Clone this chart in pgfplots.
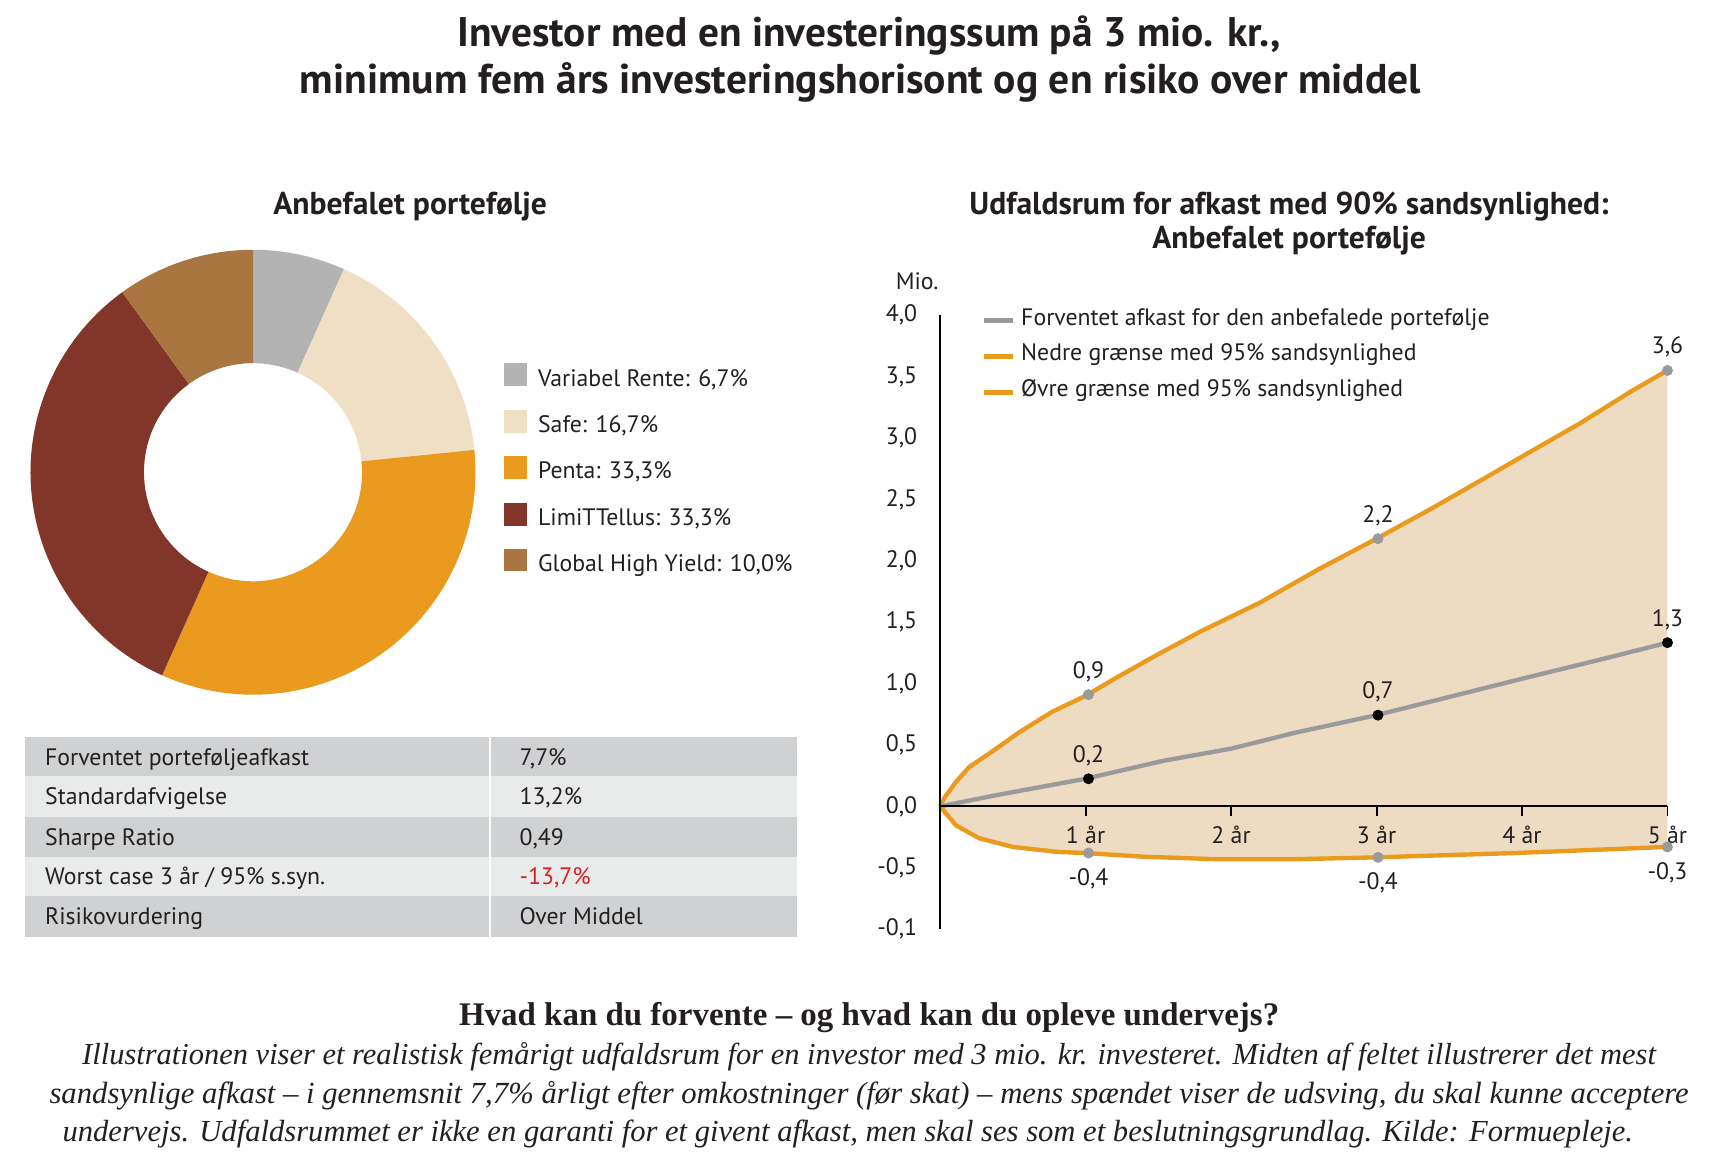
\documentclass[border=0pt]{standalone}
\usepackage{fontspec}
\usepackage{pgfplots}
\pgfplotsset{compat=1.18}
\newfontfamily\ptsans{PT Sans}
\newfontfamily\serifb{Liberation Serif}
\definecolor{cVar}{HTML}{B3B3B3}
\definecolor{cSafe}{HTML}{EEDFC5}
\definecolor{cPenta}{HTML}{E99A1F}
\definecolor{cLimit}{HTML}{823529}
\definecolor{cGHY}{HTML}{A97540}
\definecolor{cOrange}{HTML}{EA9B1E}
\definecolor{cGrayLine}{HTML}{9A9A9C}
\definecolor{cFill}{HTML}{EDDCC2}
\definecolor{cRowDark}{HTML}{CFD1D2}
\definecolor{cRowLight}{HTML}{E9EAEA}
\definecolor{cRed}{HTML}{D2232A}
\definecolor{cText}{HTML}{231F20}
\newcommand\smallfont{\ptsans\fontsize{10.9}{13}\selectfont}
\tikzset{lab/.style={anchor=base, inner sep=0pt, yshift=7.6pt},
         labd/.style={anchor=north, inner sep=0pt, yshift=-6.9pt}}
\begin{document}
\begin{tikzpicture}[x=0.5pt, y=-0.5pt, font=\smallfont, text=cText]
\useasboundingbox (0,0) rectangle (1568,1062);

% ---------- main title
\node[anchor=base, font=\ptsans\bfseries] at (797,43) {\resizebox{377.5pt}{!}{Investor med en investeringssum på 3 mio. kr.,}};
\node[anchor=base, font=\ptsans\bfseries] at (789,86) {\resizebox{514pt}{!}{minimum fem års investeringshorisont og en risiko over middel}};

% ---------- section titles
\node[anchor=base, font=\ptsans\bfseries\fontsize{14.5}{17}\selectfont] at (376,197) {Anbefalet portefølje};
\node[anchor=base, font=\ptsans\bfseries\fontsize{14.5}{17}\selectfont] at (1182,197) {Udfaldsrum for afkast med 90\% sandsynlighed:};
\node[anchor=base, font=\ptsans\bfseries\fontsize{14.5}{17}\selectfont] at (1182,228) {Anbefalet portefølje};

% ---------- donut (shares in %)
\begin{scope}[shift={(232,433)}, x=1pt, y=1pt]
\gdef\ang{90}
\foreach \v/\c in {6.7/cVar,16.7/cSafe,33.3/cPenta,33.3/cLimit,10.0/cGHY}{
  \pgfmathsetmacro\e{\ang-\v*3.6}
  \fill[\c] (\ang:102pt) arc[start angle=\ang, end angle=\e, radius=102pt]
     -- (\e:50pt) arc[start angle=\e, end angle=\ang, radius=50pt] -- cycle;
  \xdef\ang{\e}
}
\end{scope}

% ---------- donut legend
\foreach \c/\t/\y in {cVar/{Variabel Rente: 6,7\%}/333, cSafe/{Safe: 16,7\%}/376, cPenta/{Penta: 33,3\%}/418, cLimit/{LimiTTellus: 33,3\%}/461, cGHY/{Global High Yield: 10,0\%}/503}{
  \fill[\c] (462,\y) rectangle (483,\y+21);
  \node[anchor=base west, inner sep=0pt] at (493,\y+21) {\t};
}

% ---------- table
\foreach \ya/\yb/\c in {676/712/cRowDark, 712/749/cRowLight, 749/786/cRowDark, 786/822/cRowLight, 822/859/cRowDark}{
  \fill[\c] (23,\ya) rectangle (731,\yb);
}
\draw[white, line width=1pt] (449,676) -- (449,859);
\foreach \y/\a/\b in {702/{Forventet porteføljeafkast}/{7,7\%}, 738/{Standardafvigelse}/{13,2\%}, 775/{Sharpe Ratio}/{0,49}, 811/{Worst case 3 år / 95\% s.syn.}/{\textcolor{cRed}{-13,7\%}}, 848/{Risikovurdering}/{Over Middel}}{
  \node[anchor=base west, inner sep=0pt] at (41,\y) {\a};
  \node[anchor=base west, inner sep=0pt] at (476,\y) {\b};
}

% ---------- line chart
\node[anchor=base west, inner sep=0pt] at (821,265) {Mio.};
\begin{scope}[x=1pt, y=1pt]
\begin{axis}[at={(431pt,-426pt)}, anchor=south west, scale only axis,
  width=333.5pt, height=281.5pt, xmin=0, xmax=5, ymin=-1, ymax=4, clip=false,
  axis on top,
  axis x line=middle, axis y line=left, axis line style={-, black, line width=0.9pt},
  xtick={1,2,3,4,5}, xticklabels={1 år,2 år,3 år,4 år,5 år},
  ytick={-1,-0.5,0,0.5,1,1.5,2,2.5,3,3.5,4},
  yticklabels={{-0,1},{-0,5},{0,0},{0,5},{1,0},{1,5},{2,0},{2,5},{3,0},{3,5},{4,0}},
  ytick style={draw=none}, xtick style={black, line width=0.9pt},
  tick align=outside, major tick length=4.5pt,
  tick label style={font=\smallfont, text=cText},
  y tick label style={xshift=-2.5pt},
  x tick label style={yshift=-1pt},
]
% band between lower and upper limit
\addplot[fill=cFill, draw=none] coordinates {
 (0,0) (0.03,0.07) (0.11,0.20) (0.2,0.32) (0.35,0.44) (0.54,0.60) (0.77,0.77) (1.0,0.90) (1.2,1.04) (1.5,1.24) (1.8,1.43) (2.2,1.66) (2.6,1.93) (3.0,2.18) (3.37,2.42) (3.71,2.65) (4.06,2.89) (4.4,3.12) (4.75,3.38) (5.0,3.55)
 (5.0,-0.33) (3.95,-0.38) (3.0,-0.415) (2.45,-0.43) (1.9,-0.43) (1.4,-0.41) (1.0,-0.38) (0.8,-0.37) (0.5,-0.33) (0.27,-0.26) (0.11,-0.155) (0,0)
};
% upper limit
\addplot[cOrange, line width=2pt] coordinates {
 (0,0) (0.03,0.07) (0.11,0.20) (0.2,0.32) (0.35,0.44) (0.54,0.60) (0.77,0.77) (1.0,0.90) (1.2,1.04) (1.5,1.24) (1.8,1.43) (2.2,1.66) (2.6,1.93) (3.0,2.18) (3.37,2.42) (3.71,2.65) (4.06,2.89) (4.4,3.12) (4.75,3.38) (5.0,3.55)
};
% lower limit
\addplot[cOrange, line width=2pt] coordinates {
 (0,0) (0.11,-0.155) (0.27,-0.26) (0.5,-0.33) (0.8,-0.37) (1.0,-0.38) (1.4,-0.41) (1.9,-0.43) (2.45,-0.43) (3.0,-0.415) (3.95,-0.38) (5.0,-0.33)
};
% expected
\addplot[cGrayLine, line width=2pt] coordinates {
 (0,0) (0.38,0.09) (1.0,0.225) (1.53,0.37) (2.0,0.47) (2.44,0.60) (3.0,0.743) (3.72,0.956) (4.06,1.057) (4.52,1.19) (5.0,1.333)
};
% markers
\addplot[only marks, mark=*, mark size=2.3pt, cGrayLine, mark options={draw=none, fill=cGrayLine}] coordinates {(1.02,0.91) (3.01,2.18) (5,3.55) (1.02,-0.38) (3.01,-0.415) (5,-0.33)};
\addplot[only marks, mark=*, mark size=2.3pt, black] coordinates {(1.02,0.225) (3.01,0.743) (5,1.333)};
% value labels
\node[lab] at (axis cs:1.02,0.91) {0,9};
\node[lab] at (axis cs:3.01,2.18) {2,2};
\node[lab] at (axis cs:5,3.55) {3,6};
\node[lab] at (axis cs:1.02,0.225) {0,2};
\node[lab] at (axis cs:3.01,0.743) {0,7};
\node[lab] at (axis cs:5,1.333) {1,3};
\node[labd] at (axis cs:1.02,-0.38) {-0,4};
\node[labd] at (axis cs:3.01,-0.415) {-0,4};
\node[labd] at (axis cs:5,-0.33) {-0,3};
\end{axis}
\end{scope}

% legend of the line chart
\draw[cGrayLine, line width=2pt] (902,294) -- (929,294);
\draw[cOrange, line width=2pt] (902,327) -- (929,327);
\draw[cOrange, line width=2pt] (902,360) -- (929,360);
\node[anchor=base west, inner sep=0pt] at (936,298) {Forventet afkast for den anbefalede portefølje};
\node[anchor=base west, inner sep=0pt] at (936,331) {Nedre grænse med 95\% sandsynlighed};
\node[anchor=base west, inner sep=0pt] at (936,364) {Øvre grænse med 95\% sandsynlighed};

% ---------- bottom text
\node[anchor=base, inner sep=0pt, font=\serifb\bfseries] at (797,940) {\resizebox{376pt}{!}{Hvad kan du forvente – og hvad kan du opleve undervejs?}};
\node[anchor=base west, inner sep=0pt, font=\serifb\itshape] at (75,976) {\resizebox{721.5pt}{!}{Illustrationen viser et realistisk femårigt udfaldsrum for en investor med 3 mio. kr. investeret. Midten af feltet illustrerer det mest}};
\node[anchor=base west, inner sep=0pt, font=\serifb\itshape] at (45,1012) {\resizebox{751.5pt}{!}{sandsynlige afkast – i gennemsnit 7,7\% årligt efter omkostninger (før skat) – mens spændet viser de udsving, du skal kunne acceptere}};
\node[anchor=base west, inner sep=0pt, font=\serifb\itshape] at (57,1047) {\resizebox{720pt}{!}{undervejs. Udfaldsrummet er ikke en garanti for et givent afkast, men skal ses som et beslutningsgrundlag. Kilde: Formuepleje.}};
\end{tikzpicture}
\end{document}
